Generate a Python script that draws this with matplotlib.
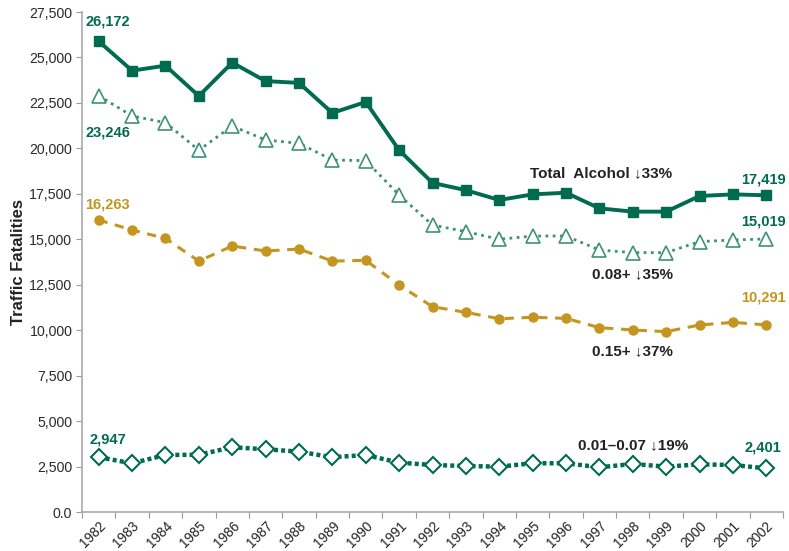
import matplotlib
matplotlib.use("Agg")
import matplotlib.pyplot as plt
from matplotlib.ticker import FuncFormatter

plt.rcParams['font.family'] = ['Liberation Sans', 'DejaVu Sans']

years = [str(y) for y in range(1982, 2003)]

total_alcohol = [25890, 24275, 24550, 22880, 24715, 23700, 23600, 21950, 22550, 19900,
                 18100, 17700, 17160, 17470, 17560, 16700, 16520, 16520, 17380, 17470, 17419]
bac_08 = [22900, 21780, 21415, 19900, 21230, 20460, 20280, 19360, 19325, 17435,
          15785, 15420, 15000, 15180, 15180, 14410, 14265, 14265, 14870, 14960, 15019]
bac_15 = [16060, 15510, 15050, 13800, 14630, 14355, 14465, 13800, 13840, 12485,
          11290, 10980, 10630, 10710, 10650, 10140, 10010, 9920, 10285, 10430, 10291]
bac_01_07 = [3010, 2680, 3135, 3150, 3560, 3450, 3320, 3010, 3135, 2715,
             2585, 2530, 2495, 2680, 2680, 2460, 2640, 2495, 2620, 2585, 2401]

first_labels = ["26,172", "23,246", "16,263", "2,947"]
last_labels = ["17,419", "15,019", "10,291", "2,401"]
series_notes = ["Total  Alcohol \u219333%", "0.08+ \u219335%", "0.15+ \u219337%",
                "0.01\u20130.07 \u219319%"]

dark_green = "#006b4f"
light_green = "#3f9178"
gold = "#c4951f"

fig = plt.figure(figsize=(7.89, 5.51), dpi=100)
ax = fig.add_axes([82 / 789, 39 / 551, 701 / 789, 500 / 551])
x = list(range(len(years)))

ax.plot(x, total_alcohol, color=dark_green, lw=2.8, marker='s', ms=7, zorder=4)
ax.plot(x, bac_08, color=light_green, lw=2.0, ls=(0, (1, 1.6)), marker='^', ms=10,
        mfc='white', mec=light_green, mew=1.2, zorder=3)
ax.plot(x, bac_15, color=gold, lw=2.2, ls=(0, (3, 2.5)), marker='o', ms=6.5, zorder=3)
ax.plot(x, bac_01_07, color=dark_green, lw=3.2, ls=(0, (0.9, 0.7)), marker='D', ms=8.5,
        mfc='white', mec=dark_green, mew=1.5, zorder=3)

ax.set_xlim(-0.5, len(years) - 0.5)
ax.set_ylim(0, 27500)
ax.set_yticks(range(0, 27501, 2500))
ax.yaxis.set_major_formatter(FuncFormatter(lambda v, p: "0.0" if v == 0 else f"{int(v):,}"))
ax.set_xticks([i - 0.5 for i in x] + [len(years) - 0.5])
ax.set_xticklabels([])
ax.set_xticks(x, minor=True)
ax.set_xticklabels(years, minor=True, rotation=45, ha='right', va='top',
                   rotation_mode='anchor', fontsize=9.8, color='#222222')
ax.tick_params(axis='x', which='minor', length=0, pad=5)
ax.tick_params(axis='x', which='major', length=4, color='#999999', direction='out')
ax.tick_params(axis='y', length=4, color='#999999', labelsize=10.2, labelcolor='#2a2a2a', pad=3)

for side in ['top', 'right']:
    ax.spines[side].set_visible(False)
for side in ['left', 'bottom']:
    ax.spines[side].set_color('#aaaaaa')
    ax.spines[side].set_linewidth(1.2)

ax.set_ylabel("Traffic Fatalities", fontsize=12, fontweight='bold', color='#222222')
ax.yaxis.set_label_coords((26 - 82) / 701, 0.5)

# value labels at both ends
first_y = [26970, 20850, 16890, 3960]
last_y = [18315, 16005, 11770, 3540]
label_colors = [dark_green, dark_green, gold, dark_green]
for txt, yy, c in zip(first_labels, first_y, label_colors):
    ax.text(0.27, yy, txt, color=c, fontsize=10.5, fontweight='bold', ha='center', va='center')
for txt, yy, c in zip(last_labels, last_y, label_colors):
    ax.text(19.9, yy, txt, color=c, fontsize=10.5, fontweight='bold', ha='center', va='center')

note_pos = [(15.05, 18645), (16.0, 13090), (16.0, 8855), (16.0, 3685)]
for txt, (xx, yy) in zip(series_notes, note_pos):
    ax.text(xx, yy, txt, color='#222222', fontsize=11, fontweight='bold', ha='center', va='center')

fig.savefig("out.png", dpi=100)
